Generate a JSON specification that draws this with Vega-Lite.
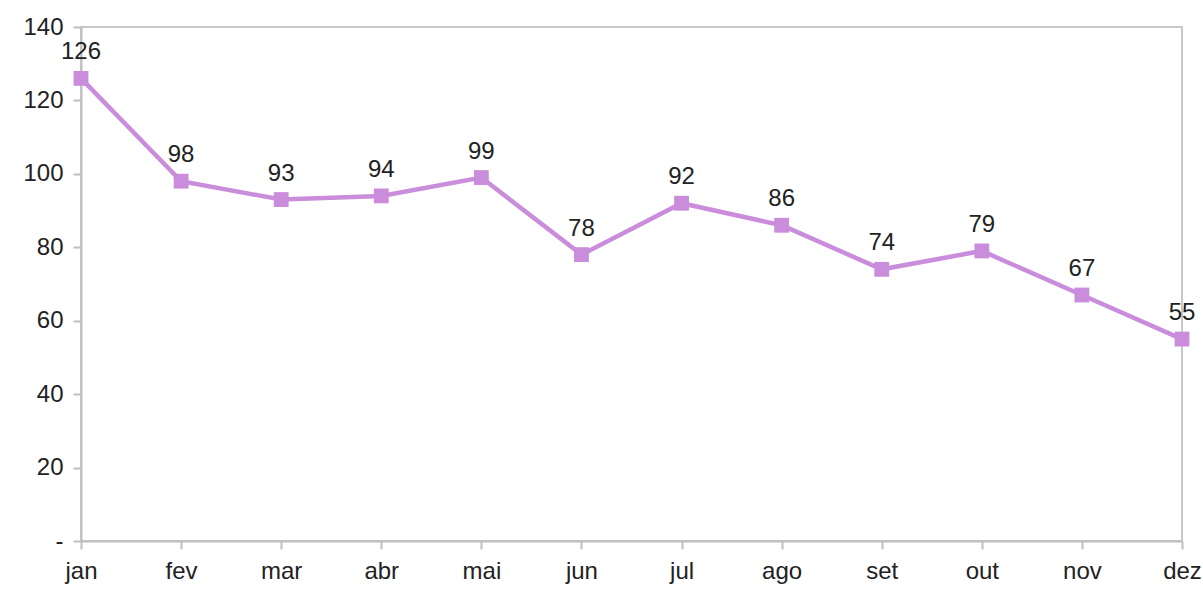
{
  "$schema": "https://vega.github.io/schema/vega-lite/v6.json",
  "width": 1101,
  "height": 514,
  "autosize": {"type": "none"},
  "padding": {"left": 81, "top": 27, "right": 21, "bottom": 48},
  "background": "white",
  "config": {
    "view": {"stroke": "#c8c8c8", "strokeWidth": 2},
    "font": "Liberation Sans"
  },
  "data": {
    "values": [
      {"mes": "jan", "valor": 126},
      {"mes": "fev", "valor": 98},
      {"mes": "mar", "valor": 93},
      {"mes": "abr", "valor": 94},
      {"mes": "mai", "valor": 99},
      {"mes": "jun", "valor": 78},
      {"mes": "jul", "valor": 92},
      {"mes": "ago", "valor": 86},
      {"mes": "set", "valor": 74},
      {"mes": "out", "valor": 79},
      {"mes": "nov", "valor": 67},
      {"mes": "dez", "valor": 55}
    ]
  },
  "encoding": {
    "x": {
      "field": "mes",
      "type": "ordinal",
      "sort": null,
      "scale": {"type": "point", "padding": 0},
      "axis": {
        "title": null,
        "labelAngle": 0,
        "labelFontSize": 24,
        "labelColor": "#222222",
        "labelPadding": 10,
        "domainColor": "#bfbfbf",
        "domainWidth": 2,
        "tickColor": "#bfbfbf",
        "tickWidth": 2,
        "tickSize": 8,
        "labelFont": "Liberation Sans"
      }
    },
    "y": {
      "field": "valor",
      "type": "quantitative",
      "scale": {"domain": [0, 140]},
      "axis": {
        "title": null,
        "values": [0, 20, 40, 60, 80, 100, 120, 140],
        "labelExpr": "datum.value == 0 ? '-' : datum.label",
        "labelFontSize": 24,
        "labelColor": "#222222",
        "labelPadding": 10,
        "grid": false,
        "domainColor": "#bfbfbf",
        "domainWidth": 2,
        "tickColor": "#bfbfbf",
        "tickWidth": 2,
        "tickSize": 8,
        "labelFont": "Liberation Sans"
      }
    }
  },
  "layer": [
    {
      "mark": {"type": "line", "color": "#ca8ddc", "strokeWidth": 4.5}
    },
    {
      "mark": {"type": "point", "shape": "square", "filled": true, "color": "#ca8ddc", "size": 220, "opacity": 1}
    },
    {
      "mark": {"type": "text", "baseline": "bottom", "dy": -14, "fontSize": 24, "color": "#222222", "font": "Liberation Sans"},
      "encoding": {"text": {"field": "valor", "type": "quantitative"}}
    }
  ]
}
